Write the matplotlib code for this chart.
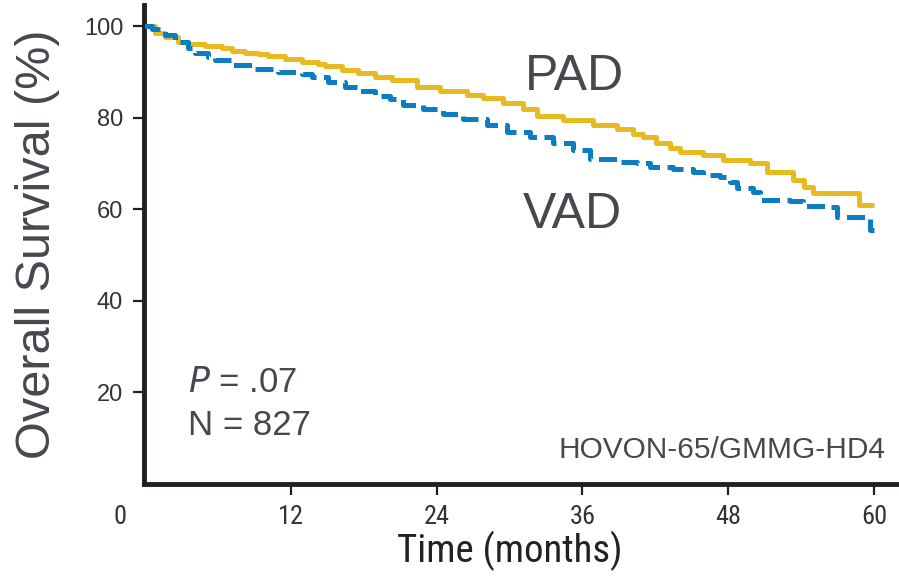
import matplotlib
matplotlib.use("Agg")
import matplotlib.pyplot as plt
from matplotlib import font_manager
from matplotlib.font_manager import FontProperties
from matplotlib.transforms import ScaledTranslation

# ---- data ----
pad_t = [0, 0.82, 1.65, 2.72, 3.54, 4.94, 6.34, 7.16, 8.23, 9.3, 10.12, 11.52,
         12.92, 14.24, 14.81, 16.21, 17.53, 18.93, 20.33, 22.39, 24.28, 26.5,
         27.82, 29.47, 31.11, 32.26, 34.4, 36.87, 38.85, 40.2, 41.0, 42.1, 43.2,
         44.0, 45.9, 47.6, 49.8, 51.2, 53.3, 54.2, 55.0, 58.8, 60.0]
pad_s = [100, 98.5, 97.6, 96.6, 96.1, 95.6, 95.3, 94.6, 94.2, 93.9, 93.4, 92.8,
         92.2, 91.8, 91.3, 90.4, 89.8, 88.8, 88.2, 86.7, 85.9, 84.9,
         84.2, 83.2, 81.8, 80.4, 79.5, 78.4, 77.4, 76.4, 75.7, 74.4, 73.3,
         72.5, 71.8, 70.7, 70.0, 68.2, 66.3, 64.9, 63.6, 60.9, 60.9]

vad_t = [0, 0.58, 1.65, 2.47, 3.54, 4.12, 5.19, 5.76, 7.16, 8.81, 10.95, 12.92,
         13.74, 15.06, 16.46, 17.53, 18.93, 20.16, 21.23, 22.88, 24.53, 26.17,
         28.15, 29.79, 31.69, 33.58, 35.23, 36.63, 38.85, 40.49, 41.56, 43.46,
         45.1, 45.93, 47.33, 48.15, 48.72, 50.04, 50.62, 53.09, 54.16, 56.38,
         56.95, 59.7, 60.0]
vad_s = [100, 99.3, 98.0, 96.6, 95.2, 94.2, 93.2, 92.6, 91.5, 90.6, 89.9, 89.5,
         88.8, 87.8, 86.7, 85.9, 84.6, 84.0, 82.7, 81.8, 80.8, 79.6,
         78.4, 76.9, 75.8, 74.4, 72.9, 70.9, 70.3, 70.0, 69.2, 68.7,
         68.2, 67.4, 67.1, 66.0, 64.5, 63.8, 61.9, 61.8, 60.7, 60.4,
         58.3, 55.4, 55.4]

x_ticks = [0, 12, 24, 36, 48, 60]
x_tick_labels = ["0", "12", "24", "36", "48", "60"]
y_ticks = [20, 40, 60, 80, 100]
y_tick_labels = ["20", "40", "60", "80", "100"]

# ---- fonts ----
names = {f.name for f in font_manager.fontManager.ttflist}
main_font = "Liberation Sans" if "Liberation Sans" in names else "DejaVu Sans"
plt.rcParams["font.family"] = [main_font, "DejaVu Sans"]

# look for a condensed sans face (regular weight, upright)
narrow_prop = None
cands = []
for f in font_manager.fontManager.ttflist:
    nm = f.name.lower()
    fn = f.fname.lower()
    is_cond = ("narrow" in nm or "condensed" in nm or "condensed" in fn
               or "narrow" in fn or str(f.stretch).lower() in
               ("condensed", "semi-condensed", "extra-condensed"))
    if not is_cond:
        continue
    if f.style != "normal" or f.weight not in (400, "normal", "regular"):
        continue
    if "serif" in nm and "sans" not in nm:
        continue
    if "mono" in nm:
        continue
    cands.append(f)
pref = ["liberation sans narrow", "roboto condensed", "open sans condensed",
        "dejavu sans condensed", "noto sans condensed"]
def rank(f):
    nm = f.name.lower()
    for i, p in enumerate(pref):
        if p in nm or p.replace(" ", "") in f.fname.lower().replace(" ", "").replace("-", ""):
            return i
    return len(pref)
if cands:
    cands.sort(key=rank)
    narrow_prop = cands[0].fname

def nprop(size):
    if narrow_prop:
        return FontProperties(fname=narrow_prop, size=size)
    return FontProperties(family=main_font, size=size * 0.84)

YELLOW = "#E9BA1F"
BLUE = "#0A7DC3"
TXT = "#45494E"
AX = "#231F20"

fig = plt.figure(figsize=(8.99, 5.76), dpi=100)
ax = fig.add_axes([144 / 899, 92 / 576, 755 / 899, 479 / 576])

ax.plot(pad_t, pad_s, drawstyle="steps-post", color=YELLOW, lw=3.6,
        solid_capstyle="butt", zorder=3)
ax.plot(vad_t, vad_s, drawstyle="steps-post", color=BLUE, lw=3.6,
        dashes=(3.6, 1.5), dash_capstyle="butt", zorder=4)

ax.set_xlim(-0.08, 62.06)
ax.set_ylim(-0.1, 104.6)

for s in ["top", "right"]:
    ax.spines[s].set_visible(False)
for s in ["left", "bottom"]:
    ax.spines[s].set_linewidth(3.5)
    ax.spines[s].set_color(AX)

ax.set_xticks(x_ticks)
ax.set_xticklabels(x_tick_labels, color="#333333")
for lab in ax.get_xticklabels():
    lab.set_fontproperties(nprop(19))
ax.set_yticks(y_ticks)
ax.set_yticklabels(y_tick_labels, fontsize=17, color="#333333")
ax.tick_params(axis="x", length=8, width=1.6, color=AX, pad=7)
ax.tick_params(axis="y", length=8, width=1.6, color=AX, pad=7)
first = ax.xaxis.get_major_ticks()[0]
first.tick1line.set_visible(False)
first.label1.set_transform(first.label1.get_transform() +
                           ScaledTranslation(-0.25, 0, fig.dpi_scale_trans))

fig.text(38 / 899, 1 - 244 / 576, "Overall Survival (%)", rotation=90,
         ha="center", va="center", fontsize=35, color=TXT)
fig.text(510 / 899, 1 - 551 / 576, "Time (months)", ha="center", va="center",
         color="#222222", fontproperties=nprop(28))

ax.text(0.5046, 0.8225, "PAD", transform=ax.transAxes, fontsize=36,
        color=TXT, va="baseline", ha="left")
ax.text(0.502, 0.534, "VAD", transform=ax.transAxes, fontsize=36,
        color=TXT, va="baseline", ha="left")
ax.text(0.0583, 0.192, r"$\mathit{P}$ = .07", transform=ax.transAxes,
        fontsize=25, color=TXT, va="baseline", ha="left")
ax.text(0.0583, 0.102, "N = 827", transform=ax.transAxes, fontsize=25,
        color=TXT, va="baseline", ha="left")
ax.text(0.9815, 0.054, "HOVON-65/GMMG-HD4", transform=ax.transAxes,
        fontsize=21.5, color=TXT, va="baseline", ha="right")

fig.savefig("out.png", dpi=100)
